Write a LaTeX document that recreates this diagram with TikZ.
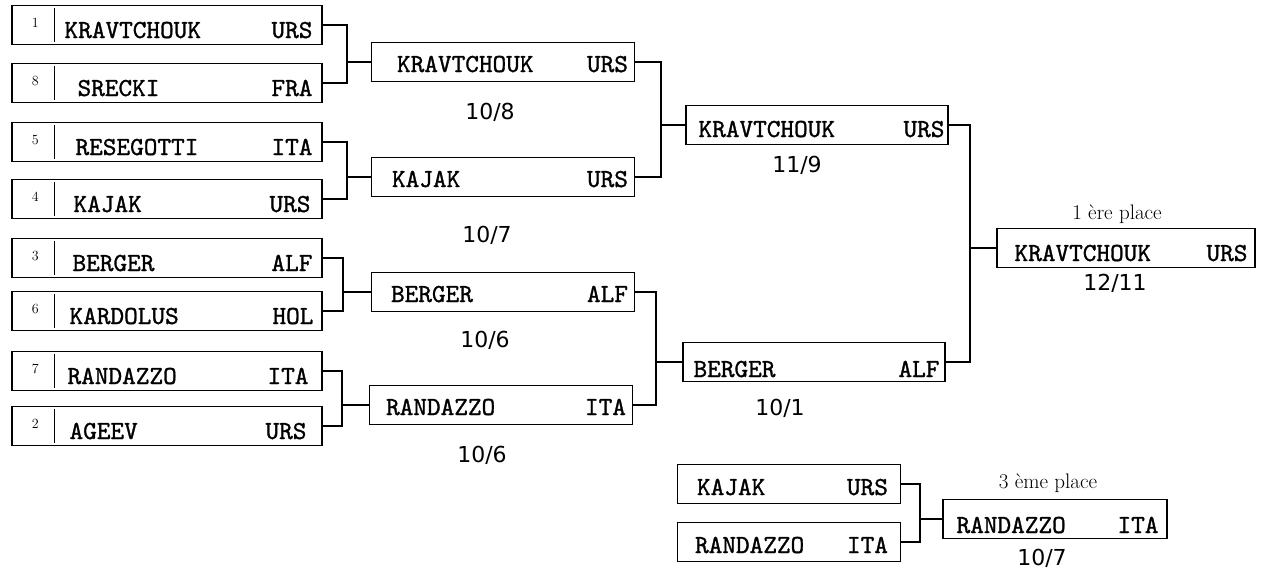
\documentclass[tikz,border=0pt]{standalone}
\usepackage{fontspec}
\usetikzlibrary{calc}
\newfontfamily\scorefont{DejaVu Sans}
\newfontfamily\twfont{lmmono10-regular.otf}[FakeBold=1.2]
\newcommand\entry[8]{% id, cx, cy, width, name dx, name, country dx, country ; baseline dy via \bdy
  \node[box,minimum width=#4pt] (#1) at (#2,#3) {};
  \node[nm] (#1n) at ($(#1.west)+(#5,\bdy)$) {#6};
  \node[ct] (#1c) at ($(#1.east)+(#7,\bdy)$) {#8};
}
\newcommand\bdy{12}
\begin{document}
\begin{tikzpicture}[x=1pt,y=-1pt,
  box/.style={draw,line width=1.3pt,rectangle,inner sep=0pt,minimum height=39pt},
  nm/.style={font=\fontsize{26}{26}\selectfont\twfont,anchor=base west,inner sep=0pt},
  ct/.style={font=\fontsize{26}{26}\selectfont\twfont,anchor=base east,inner sep=0pt},
  sd/.style={font=\fontsize{14}{14}\selectfont,inner sep=0pt},
  sc/.style={font=\fontsize{22}{22}\selectfont\scorefont,inner sep=0pt},
  pl/.style={font=\fontsize{21}{21}\selectfont,inner sep=0pt},
  sep/.style={line width=1pt},
  conn/.style={line width=1.3pt}]
\useasboundingbox (0,0) rectangle (1270,576);

% first round
\renewcommand\bdy{13}
\entry{a1}{167}{25}{310}{53}{KRAVTCHOUK}{-10}{URS}
\entry{a2}{167}{83}{310}{66}{SRECKI}{-10}{FRA}
\entry{a3}{167}{142}{310}{64}{RESEGOTTI}{-10}{ITA}
\entry{a4}{167}{199}{310}{62}{KAJAK}{-12}{URS}
\entry{a5}{167}{258}{310}{61}{BERGER}{-10}{ALF}
\entry{a6}{167}{311}{310}{58}{KARDOLUS}{-9}{HOL}
\entry{a7}{167}{371}{310}{56}{RANDAZZO}{-14}{ITA}
\entry{a8}{167}{426}{310}{58}{AGEEV}{-16}{URS}
\foreach \b/\s in {a1/1,a2/8,a3/5,a4/4,a5/3,a6/6,a7/7,a8/2}{
  \draw[sep] ($(\b.north west)+(43,3)$) -- ($(\b.south west)+(43,-3)$);
  \node[sd] (\b s) at ($(\b.west)+(24,-2)$) {\s};
}

% second round
\renewcommand\bdy{10}
\entry{b1}{503}{62}{263}{26}{KRAVTCHOUK}{-7}{URS}
\entry{b2}{503}{177}{263}{21}{KAJAK}{-7}{URS}
\entry{b3}{503}{292}{263}{20}{BERGER}{-7}{ALF}
\entry{b4}{501}{405}{263}{17}{RANDAZZO}{-7}{ITA}
\node[sc] (s1) at (490,112) {10/8};
\node[sc] (s2) at (487,235) {10/7};
\node[sc] (s3) at (485,340) {10/6};
\node[sc] (s4) at (482,455) {10/6};

% semi finals
\renewcommand\bdy{12}
\entry{c1}{817}{125}{262}{13}{KRAVTCHOUK}{-4}{URS}
\renewcommand\bdy{15}
\entry{c2}{814}{362}{262}{11}{BERGER}{-6}{ALF}
\node[sc] (s5) at (797,165) {11/9};
\node[sc] (s6) at (780,408) {10/1};

% final
\renewcommand\bdy{13}
\entry{d1}{1126}{248}{258}{18}{KRAVTCHOUK}{-8}{URS}
\node[pl] (p1) at (1117,214) {1 ère place};
\node[sc] (s7) at (1115,283) {12/11};

% third place
\renewcommand\bdy{11}
\entry{e1}{789}{484}{223}{20}{KAJAK}{-13}{URS}
\entry{e2}{789}{542}{223}{18}{RANDAZZO}{-13}{ITA}
\renewcommand\bdy{14}
\entry{f1}{1055}{519}{224}{14}{RANDAZZO}{-9}{ITA}
\node[pl] (p2) at (1048,483) {3 ème place};
\node[sc] (s8) at (1042,558) {10/7};

% connectors
\coordinate (j1) at (347,62);
\coordinate (j2) at (347,177);
\coordinate (j3) at (343,292);
\coordinate (j4) at (342,405);
\coordinate (j5) at (661,125);
\coordinate (j6) at (656,362);
\coordinate (j7) at (970,248);
\coordinate (j8) at (920,519);
\draw[conn] (a1.east) -| (j1) |- (a2.east); \draw[conn] (j1) -- (b1.west);
\draw[conn] (a3.east) -| (j2) |- (a4.east); \draw[conn] (j2) -- (b2.west);
\draw[conn] (a5.east) -| (j3) |- (a6.east); \draw[conn] (j3) -- (b3.west);
\draw[conn] (a7.east) -| (j4) |- (a8.east); \draw[conn] (j4) -- (b4.west);
\draw[conn] (b1.east) -| (j5) |- (b2.east); \draw[conn] (j5) -- (c1.west);
\draw[conn] (b3.east) -| (j6) |- (b4.east); \draw[conn] (j6) -- (c2.west);
\draw[conn] (c1.east) -| (j7) |- (c2.east); \draw[conn] (j7) -- (d1.west);
\draw[conn] (e1.east) -| (j8) |- (e2.east); \draw[conn] (j8) -- (f1.west);
\end{tikzpicture}
\end{document}
